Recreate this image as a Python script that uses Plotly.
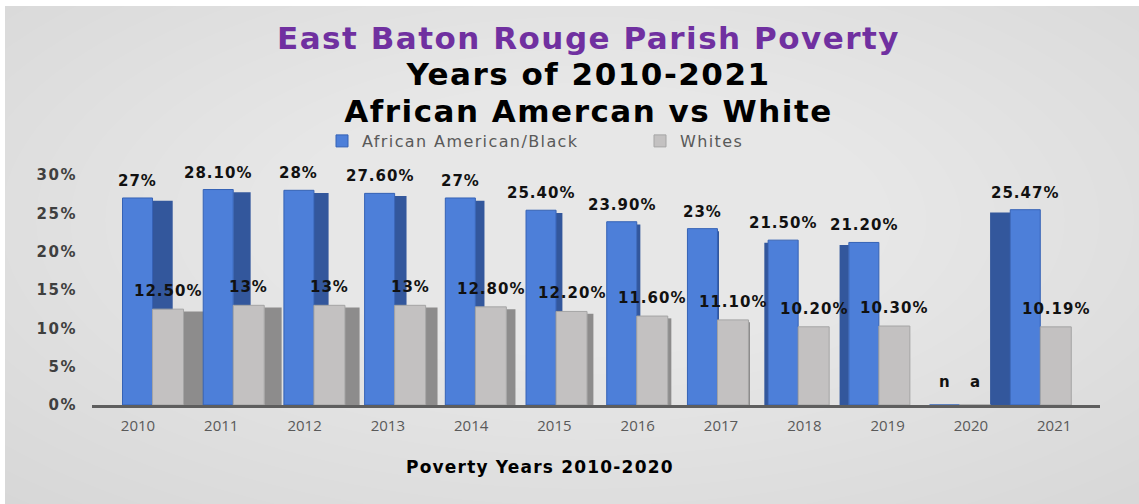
import plotly.graph_objects as go

# ---- data -------------------------------------------------------------
years = ["2010", "2011", "2012", "2013", "2014", "2015",
         "2016", "2017", "2018", "2019", "2020", "2021"]
black_rate = [27, 28.1, 28, 27.6, 27, 25.4, 23.9, 23, 21.5, 21.2, None, 25.47]
white_rate = [12.5, 13, 13, 13, 12.8, 12.2, 11.6, 11.1, 10.2, 10.3, None, 10.19]
black_labels = ["27%", "28.10%", "28%", "27.60%", "27%", "25.40%", "23.90%",
                "23%", "21.50%", "21.20%", "n", "25.47%"]
white_labels = ["12.50%", "13%", "13%", "13%", "12.80%", "12.20%", "11.60%",
                "11.10%", "10.20%", "10.30%", "a", "10.19%"]
y_ticks = [0, 5, 10, 15, 20, 25, 30]

# ---- geometry / styling ----------------------------------------------
W, H = 1139, 504
ML, MR, MT, MB = 92, 39, 163, 99
PW, PH = W - ML - MR, H - MT - MB
Y_MAX = 31.56

BLUE, BLUE_SIDE, BLUE_EDGE = "#4d7fd9", "#33579c", "#3562b5"
GREY, GREY_SIDE, GREY_EDGE = "#c3c1c1", "#8d8c8c", "#a5a5a5"

FRONT_W_B, FRONT_W_G = 0.372, 0.384     # front face widths (category units)
VANISH = 7.3                            # column index where sides vanish
DEPTH = 0.25                            # max visible side depth


def side_depth(i):
    if i < VANISH:
        return DEPTH * (VANISH - i) / VANISH
    return -DEPTH * (i - VANISH) / (len(years) - 1 - VANISH)


def px_x(px):
    return (px - ML) / PW


def px_y(py):
    return (H - MB - py) / PH


def spaced(text, px, extra=""):
    return f"<span style='letter-spacing:{px}px;{extra}'>{text}</span>"


def zero_if_none(vals):
    return [0 if v is None else v for v in vals]


blue_side_off, blue_side_w, grey_side_off, grey_side_w = [], [], [], []
for i in range(len(years)):
    d = side_depth(i)
    if d >= 0:
        blue_side_off.append(0.0)
        grey_side_off.append(FRONT_W_G)
    else:
        blue_side_off.append(-FRONT_W_B + d)
        grey_side_off.append(d)
    blue_side_w.append(abs(d) + 1e-6)
    grey_side_w.append(abs(d) + 1e-6)

fig = go.Figure()

# side faces of the columns
fig.add_trace(go.Bar(
    x=years, y=[None if v is None else v - 0.35 for v in black_rate],
    offset=blue_side_off, width=blue_side_w,
    marker=dict(color=BLUE_SIDE, line=dict(width=0)),
    showlegend=False, hoverinfo="skip"))
fig.add_trace(go.Bar(
    x=years, y=[None if v is None else v - 0.3 for v in white_rate],
    offset=grey_side_off, width=grey_side_w,
    marker=dict(color=GREY_SIDE, line=dict(width=0)),
    showlegend=False, hoverinfo="skip"))

# front faces
fig.add_trace(go.Bar(
    name=spaced("African American/Black", 1.4), x=years, y=zero_if_none(black_rate),
    offset=-FRONT_W_B, width=FRONT_W_B,
    marker=dict(color=BLUE, line=dict(color=BLUE_EDGE, width=1))))
fig.add_trace(go.Bar(
    name=spaced("Whites", 1.4), x=years, y=zero_if_none(white_rate),
    offset=0, width=FRONT_W_G,
    marker=dict(color=GREY, line=dict(color=GREY_EDGE, width=1))))

# invisible trace that carries the year labels axis
fig.add_trace(go.Scatter(
    x=years, y=[0] * len(years), xaxis="x2", mode="markers",
    marker=dict(opacity=0), showlegend=False, hoverinfo="skip"))

label_font = dict(family="DejaVu Sans", size=15, color="#111111", weight="bold")
annotations = []
for i in range(len(years)):
    annotations.append(dict(
        x=i - FRONT_W_B / 2, y=black_rate[i] or 0, xref="x", yref="y",
        text=spaced(black_labels[i], 1), showarrow=False, yanchor="bottom",
        yshift=6 if black_rate[i] is not None else 12, font=label_font))
    annotations.append(dict(
        x=i + FRONT_W_G / 2, y=white_rate[i] or 0, xref="x", yref="y",
        text=spaced(white_labels[i], 1), showarrow=False, yanchor="bottom",
        yshift=7 if white_rate[i] is not None else 12, font=label_font))

# chart title block (three lines)
big = "font-size:31px"
title_text = (
    spaced("East Baton Rouge Parish Poverty", 1.5, big + ";color:#7030a0")
    + "<br>" + spaced("Years of 2010-2021", 1.5, big)
    + "<br>" + spaced("African Amercan vs White", 1.5, big)
)
annotations.append(dict(
    x=px_x(588), y=px_y(74), xref="paper", yref="paper",
    text=title_text, showarrow=False, xanchor="center", yanchor="middle",
    font=dict(family="DejaVu Sans", size=28, color="#000000", weight="bold")))

annotations.append(dict(
    x=px_x(540), y=px_y(467), xref="paper", yref="paper",
    text=spaced("Poverty Years 2010-2020", 1.2), showarrow=False,
    xanchor="center", yanchor="middle",
    font=dict(family="DejaVu Sans", size=17, color="#000000", weight="bold")))

# soft grey backdrop with a lighter centre
shapes = [
    dict(type="rect", xref="paper", yref="paper", layer="below",
         x0=px_x(5), x1=px_x(W), y0=px_y(H), y1=px_y(6),
         fillcolor="#d6d6d6", line=dict(width=0)),
]
steps = 22
for k in range(steps):
    f = 1 - k / steps
    rx, ry = 760 * f + 100, 360 * f + 40
    cx, cy = 585, 220
    shapes.append(dict(
        type="circle", xref="paper", yref="paper", layer="below",
        x0=px_x(cx - rx), x1=px_x(cx + rx), y0=px_y(cy + ry), y1=px_y(cy - ry),
        fillcolor="rgba(255,255,255,0.038)", line=dict(width=0)))

fig.update_layout(
    width=W, height=H,
    margin=dict(l=ML, r=MR, t=MT, b=MB, autoexpand=False),
    paper_bgcolor="#ffffff", plot_bgcolor="rgba(0,0,0,0)",
    barmode="overlay",
    shapes=shapes,
    annotations=annotations,
    showlegend=True,
    legend=dict(orientation="h", x=px_x(322), y=px_y(141),
                xanchor="left", yanchor="middle",
                entrywidth=273, bgcolor="rgba(0,0,0,0)",
                font=dict(family="DejaVu Sans", size=16, color="#595959"),
                itemclick=False, itemdoubleclick=False),
    xaxis=dict(range=[-0.75, 11.74], showticklabels=False, ticks="",
               showgrid=False, zeroline=False,
               showline=True, linecolor="#5e5e5e", linewidth=3),
    xaxis2=dict(overlaying="x", anchor="y", side="bottom",
                range=[-0.552, 11.55], showgrid=False, zeroline=False,
                showline=False, ticks="", ticklabelstandoff=10,
                tickfont=dict(family="Open Sans", size=15, color="#595959")),
    yaxis=dict(range=[0, Y_MAX],
               tickvals=y_ticks, ticktext=[spaced(f"{v}%", 1.5) for v in y_ticks],
               showgrid=False, zeroline=False, showline=False, ticks="",
               ticklabelstandoff=14,
               tickfont=dict(family="DejaVu Sans", size=15, color="#3f3f3f",
                             weight="bold")),
    font=dict(family="Open Sans"),
)

fig.write_html("out.html")
